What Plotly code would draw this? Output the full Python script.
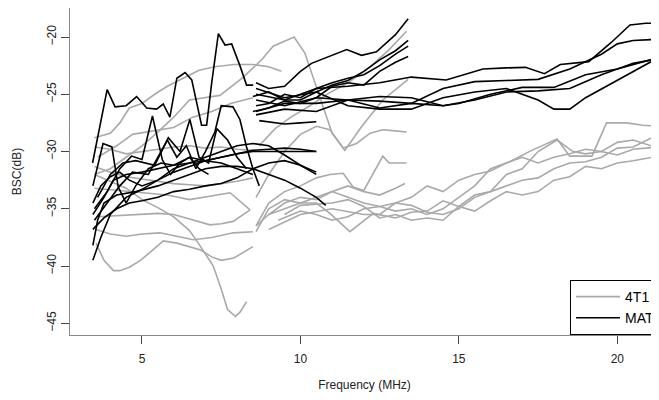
import plotly.graph_objects as go

# ---------------- data: 4T1 (gray) ----------------
g01_f = [3.5, 4.0, 4.5, 5.0, 5.5, 6.0, 6.5, 6.85, 7.25, 7.5, 7.7, 7.95, 8.1, 8.3]
g01_db = [-32.0, -32.6, -33.2, -34.2, -34.9, -35.7, -36.9, -38.3, -40.0, -42.0, -43.8, -44.4, -44.0, -43.1]
g02_f = [3.55, 3.8, 4.1, 4.3, 4.6, 4.95, 5.3, 5.67, 6.1, 6.5, 6.85, 7.2, 7.5, 7.9, 8.2, 8.5]
g02_db = [-38.0, -39.5, -40.4, -40.4, -40.1, -39.5, -38.7, -37.8, -38.0, -38.3, -38.6, -39.2, -39.5, -39.3, -38.8, -38.3]
g03_f = [3.55, 4.0, 4.5, 5.0, 5.57, 6.1, 6.62, 7.2, 7.88, 8.5]
g03_db = [-36.8, -37.2, -37.4, -37.2, -37.1, -37.4, -37.7, -37.5, -37.1, -37.0]
g04_f = [3.6, 4.2, 4.94, 5.5, 6.0, 6.5, 7.15, 7.5, 7.88, 8.41]
g04_db = [-35.7, -35.6, -35.5, -35.4, -35.5, -35.9, -36.4, -36.3, -36.1, -35.1]
g05_f = [3.5, 4.0, 4.3, 4.6, 5.0, 5.4, 5.8, 6.3, 6.8, 7.3, 7.9, 8.5, 9.0, 9.4]
g05_db = [-28.8, -28.4, -27.5, -26.2, -25.8, -25.0, -24.3, -23.6, -22.9, -22.6, -22.4, -22.4, -22.6, -23.0]
g06_f = [3.5, 4.0, 4.5, 5.0, 5.5, 6.0, 6.5, 7.0, 7.46, 8.2, 8.77, 9.14, 9.67, 9.8, 10.14, 10.6, 11.0, 11.4, 11.94, 12.6, 13.4]
g06_db = [-32.0, -31.5, -30.5, -29.5, -28.3, -27.0, -25.5, -25.3, -25.1, -23.5, -22.0, -20.8, -20.1, -20.0, -21.4, -25.2, -28.4, -29.9, -27.8, -25.5, -23.7]
g07_f = [3.5, 4.0, 4.5, 5.0, 5.5, 6.0, 6.5, 7.0, 7.5, 8.0, 8.5]
g07_db = [-29.6, -29.8, -30.2, -30.0, -29.8, -29.6, -29.5, -29.7, -29.6, -29.8, -29.9]
g08_f = [3.5, 4.0, 4.5, 5.0, 5.5, 6.0, 6.5, 7.0, 7.5, 8.0, 8.5]
g08_db = [-31.3, -31.8, -32.2, -32.4, -32.6, -32.8, -32.9, -33.0, -32.8, -32.6, -32.3]
g09_f = [3.5, 4.2, 5.0, 5.8, 6.5, 7.14, 7.78, 8.41]
g09_db = [-33.2, -33.4, -33.6, -33.8, -34.2, -33.9, -33.6, -35.1]
g10_f = [3.6, 4.2, 4.7, 5.3, 6.0, 6.6, 7.2, 7.8, 8.5]
g10_db = [-30.5, -29.5, -28.5, -28.2, -27.9, -27.0, -26.5, -25.8, -25.3]
g11_f = [8.7, 9.2, 9.7, 10.3, 10.9, 11.5, 12.2, 12.8, 13.35]
g11_db = [-29.5, -28.0, -27.0, -26.0, -24.9, -24.0, -22.6, -21.1, -19.5]
g12_f = [8.6, 9.0, 9.5, 10.0, 10.5, 10.93, 11.35, 11.77, 12.2, 12.6, 13.0, 13.35]
g12_db = [-34.0, -32.0, -30.0, -28.5, -27.8, -28.1, -29.7, -29.3, -28.4, -28.1, -28.2, -28.3]
g13_f = [8.6, 9.0, 9.5, 10.0, 10.5, 10.93, 11.35, 11.66, 12.0, 12.3, 12.6, 12.8, 13.35]
g13_db = [-36.5, -34.5, -33.5, -33.0, -32.3, -32.0, -31.9, -33.1, -33.4, -31.9, -30.4, -31.0, -31.0]
g14_f = [8.6, 9.0, 9.5, 10.0, 10.5, 11.0, 11.5, 12.0, 12.5, 13.0, 13.3]
g14_db = [-37.0, -35.0, -34.2, -34.5, -34.0, -33.5, -33.0, -33.5, -33.8, -33.2, -32.8]
g15_f = [8.6, 9.0, 9.5, 10.0, 10.5, 11.0, 11.5, 12.0, 12.5, 13.0, 13.5, 14.0, 14.5, 15.0, 15.5, 16.0, 16.6, 17.3, 17.7, 18.1, 18.5, 19.2, 19.66, 20.3, 20.8, 21.3]
g15_db = [-36.5, -35.5, -34.5, -34.0, -34.2, -33.5, -34.0, -34.5, -34.8, -35.2, -35.0, -35.5, -35.0, -34.0, -33.0, -31.5, -30.9, -29.9, -29.4, -28.9, -30.4, -30.4, -27.5, -27.5, -27.7, -27.8]
g16_f = [9.0, 10.0, 11.0, 12.0, 12.5, 13.0, 13.5, 14.0, 14.5, 15.0, 15.5, 16.0, 16.5, 17.0, 17.5, 18.1, 18.6, 19.0, 19.5, 20.0, 20.5, 21.3]
g16_db = [-36.8, -35.5, -35.0, -35.5, -35.5, -34.5, -34.7, -35.3, -35.5, -35.0, -34.0, -33.5, -32.0, -31.5, -30.0, -29.0, -30.0, -30.2, -30.0, -30.3, -29.8, -29.6]
g17_f = [9.5, 10.0, 11.0, 11.5, 12.0, 12.5, 13.0, 13.5, 14.0, 14.5, 15.0, 15.5, 16.0, 16.5, 17.0, 17.5, 18.0, 18.5, 19.0, 19.5, 20.0, 20.5, 21.3]
g17_db = [-35.5, -34.7, -34.5, -34.2, -34.8, -35.8, -35.5, -36.0, -35.8, -36.0, -34.8, -33.8, -33.5, -33.0, -32.5, -32.3, -31.5, -31.0, -30.9, -30.5, -29.7, -29.6, -28.5]
g18_f = [9.0, 10.0, 10.5, 10.93, 11.56, 12.3, 13.0, 13.5, 14.0, 14.5, 15.0, 15.5, 16.0, 16.5, 17.0, 17.5, 18.0, 18.5, 19.0, 19.5, 20.0, 20.5, 21.3]
g18_db = [-35.5, -34.5, -34.5, -35.4, -37.0, -35.4, -35.8, -35.3, -35.2, -34.3, -34.8, -35.2, -34.3, -33.5, -33.8, -33.5, -32.5, -32.2, -31.3, -31.5, -31.0, -30.8, -30.4]
g19_f = [9.3, 10.0, 10.5, 11.0, 11.5, 12.0, 12.5, 13.0, 13.5, 14.0, 14.5, 15.0, 15.5, 16.0, 16.5, 17.0, 17.5, 18.0, 18.5, 19.0, 19.5, 20.0, 20.5, 21.3]
g19_db = [-36.0, -35.2, -35.5, -36.0, -35.7, -35.0, -34.8, -34.5, -34.0, -33.0, -33.5, -32.5, -32.0, -31.7, -31.0, -30.5, -31.0, -30.5, -30.2, -29.8, -30.0, -29.2, -29.0, -29.7]

# ---------------- data: MAT (black) ----------------
k01_f = [8.6, 9.5, 10.5, 11.5, 12.5, 13.5, 14.6, 15.76, 16.5, 17.1, 17.7, 18.2, 19.1, 19.8, 20.4, 20.9, 21.3]
k01_db = [-25.0, -25.5, -24.5, -24.3, -24.0, -23.5, -23.75, -22.8, -22.7, -22.65, -23.2, -22.4, -22.15, -20.5, -18.95, -18.8, -18.8]
k02_f = [8.6, 9.5, 10.5, 11.5, 12.5, 13.5, 14.5, 15.5, 16.5, 17.5, 18.5, 19.5, 20.0, 20.5, 21.3]
k02_db = [-26.5, -25.8, -25.8, -25.5, -25.6, -25.8, -24.5, -23.9, -23.8, -23.7, -22.8, -21.5, -20.6, -20.3, -20.2]
k03_f = [8.6, 9.5, 10.5, 11.5, 12.5, 13.5, 14.5, 15.0, 16.0, 17.0, 18.0, 19.0, 20.0, 21.3]
k03_db = [-25.5, -26.0, -25.3, -25.5, -26.2, -25.8, -26.0, -25.8, -25.0, -24.4, -24.4, -23.3, -22.8, -21.8]
k04_f = [8.6, 9.5, 10.5, 11.5, 12.5, 13.5, 14.5, 15.5, 16.5, 17.5, 18.0, 18.5, 19.0, 20.0, 21.3]
k04_db = [-24.5, -25.3, -24.8, -26.0, -26.3, -26.3, -25.3, -24.8, -24.5, -25.5, -26.3, -26.3, -25.3, -23.8, -21.8]
k05_f = [8.6, 9.5, 10.5, 11.5, 12.5, 13.5, 14.5, 15.5, 16.5, 17.5, 18.5, 19.5, 20.5, 21.3]
k05_db = [-26.8, -26.3, -26.5, -25.5, -25.2, -25.3, -26.0, -25.5, -24.8, -24.7, -24.5, -23.3, -22.3, -21.9]
k06_f = [8.6, 9.0, 9.5, 10.0, 10.35, 11.0, 11.46, 11.93, 12.4, 13.0, 13.4]
k06_db = [-24.0, -24.5, -24.3, -23.0, -22.3, -21.6, -21.1, -21.6, -21.3, -19.8, -18.4]
k07_f = [8.5, 9.0, 9.5, 10.0, 10.5, 11.0, 11.5, 12.0, 12.5, 13.0, 13.4]
k07_db = [-25.2, -24.8, -25.5, -25.5, -24.8, -24.2, -23.8, -23.0, -22.0, -21.2, -20.3]
k08_f = [8.6, 9.0, 9.5, 10.0, 10.5, 11.0, 11.5, 12.0, 12.5, 13.0, 13.4]
k08_db = [-26.0, -25.8, -25.0, -25.3, -24.5, -24.0, -23.6, -23.3, -22.5, -21.5, -20.8]
k09_f = [8.5, 9.0, 9.5, 10.0, 10.5, 11.0, 11.5, 12.0, 12.5, 13.0, 13.4]
k09_db = [-26.5, -26.2, -25.6, -25.8, -25.3, -24.3, -24.0, -24.2, -23.0, -22.2, -21.7]
k10_f = [8.7, 9.5, 10.0, 10.5]
k10_db = [-27.3, -27.6, -27.5, -27.4]
k11_f = [3.44, 3.9, 4.15, 4.5, 4.83, 5.15, 5.46, 5.67, 5.88, 6.1, 6.36, 6.57, 6.88, 7.04, 7.2, 7.41, 7.62, 7.83, 8.09, 8.3, 8.51]
k11_db = [-31.0, -24.6, -26.1, -26.0, -25.2, -26.2, -26.3, -25.85, -27.0, -23.6, -23.1, -23.75, -27.7, -27.7, -24.0, -19.7, -20.7, -20.6, -22.5, -24.2, -24.2]
k12_f = [3.45, 3.77, 4.05, 4.25, 4.5, 4.8, 5.2, 5.6, 6.0, 6.5, 7.0, 7.5, 8.0, 8.5]
k12_db = [-33.0, -29.3, -29.6, -33.1, -34.5, -33.0, -31.5, -31.0, -31.2, -30.5, -30.8, -31.0, -31.5, -32.0]
k13_f = [3.5, 3.9, 4.3, 4.67, 5.0, 5.33, 5.64, 5.9, 6.2, 6.5, 6.8, 7.1]
k13_db = [-35.0, -33.5, -31.5, -30.4, -30.7, -26.9, -30.7, -32.0, -31.0, -30.5, -31.5, -32.0]
k14_f = [3.6, 4.0, 4.4, 4.8, 5.4, 5.83, 6.2, 6.51, 6.8, 7.1, 7.36, 7.7, 8.0, 8.3]
k14_db = [-34.0, -32.0, -31.0, -30.8, -31.2, -28.8, -30.0, -27.2, -30.5, -31.0, -28.0, -29.0, -30.5, -31.5]
k15_f = [3.5, 3.9, 4.3, 4.7, 5.2, 5.8, 6.1, 6.4, 6.7, 7.0, 7.3, 7.5, 7.87, 8.09, 8.3, 8.5, 8.7]
k15_db = [-36.0, -34.5, -33.0, -31.8, -32.0, -29.0, -30.5, -29.5, -31.5, -30.0, -28.3, -26.0, -26.1, -27.2, -29.6, -31.5, -33.0]
k16_f = [3.45, 3.7, 4.0, 4.5, 5.0, 5.5, 6.0, 6.5, 7.0, 7.5, 8.0, 8.5, 9.0, 9.5, 10.0, 10.5]
k16_db = [-39.5, -37.5, -35.5, -34.0, -33.3, -32.5, -31.8, -31.3, -30.8, -30.5, -30.2, -29.9, -29.8, -29.7, -29.8, -30.0]
k17_f = [3.45, 3.6, 3.8, 4.2, 4.8, 5.5, 6.0, 6.5, 7.0, 7.5, 8.0, 8.5, 9.0, 9.5, 10.0, 10.5, 10.8]
k17_db = [-38.2, -36.0, -34.5, -33.8, -33.5, -33.0, -32.5, -32.0, -31.5, -31.3, -31.3, -31.5, -32.0, -32.5, -33.2, -34.0, -34.7]
k18_f = [3.45, 3.8, 4.2, 4.6, 5.0, 5.5, 6.0, 6.5, 7.0, 7.5, 8.0, 8.5, 9.0, 9.5, 10.0, 10.5]
k18_db = [-36.8, -35.8, -35.0, -34.5, -34.3, -34.0, -33.5, -33.3, -33.0, -32.8, -32.3, -31.5, -31.0, -30.8, -31.2, -32.0]
k19_f = [3.45, 3.8, 4.1, 4.5, 5.0, 5.5, 6.0, 6.5, 7.0, 7.5, 8.0, 8.5, 9.0, 9.5, 10.0, 10.5]
k19_db = [-35.5, -34.0, -32.5, -32.0, -31.8, -31.5, -31.2, -31.0, -30.8, -30.5, -30.2, -30.0, -30.0, -30.0, -30.0, -30.0]
k20_f = [3.45, 3.7, 4.0, 4.3, 4.6, 5.0, 5.5, 6.0, 6.5, 7.0, 7.5, 8.0, 8.5, 9.0, 9.5, 10.0, 10.5]
k20_db = [-34.5, -33.0, -32.2, -31.8, -32.5, -33.0, -32.5, -31.5, -31.0, -30.5, -30.0, -29.5, -29.3, -29.5, -30.3, -31.2, -31.8]

gray_f = [g01_f, g02_f, g03_f, g04_f, g05_f, g06_f, g07_f, g08_f, g09_f, g10_f,
          g11_f, g12_f, g13_f, g14_f, g15_f, g16_f, g17_f, g18_f, g19_f]
gray_db = [g01_db, g02_db, g03_db, g04_db, g05_db, g06_db, g07_db, g08_db, g09_db, g10_db,
           g11_db, g12_db, g13_db, g14_db, g15_db, g16_db, g17_db, g18_db, g19_db]
black_f = [k01_f, k02_f, k03_f, k04_f, k05_f, k06_f, k07_f, k08_f, k09_f, k10_f,
           k11_f, k12_f, k13_f, k14_f, k15_f, k16_f, k17_f, k18_f, k19_f, k20_f]
black_db = [k01_db, k02_db, k03_db, k04_db, k05_db, k06_db, k07_db, k08_db, k09_db, k10_db,
            k11_db, k12_db, k13_db, k14_db, k15_db, k16_db, k17_db, k18_db, k19_db, k20_db]

x_ticks = [5, 10, 15, 20]
y_ticks = [-20, -25, -30, -35, -40, -45]

GRAY = "#a9a9a9"
BLACK = "#000000"
FONT = "Liberation Sans, Arial, sans-serif"

fig = go.Figure()
for i, (fx, dy) in enumerate(zip(gray_f, gray_db)):
    fig.add_trace(go.Scatter(x=fx, y=dy, mode="lines", line=dict(color=GRAY, width=1.6),
                             name="4T1", legendgroup="4T1", showlegend=(i == 0),
                             hoverinfo="skip"))
for i, (fx, dy) in enumerate(zip(black_f, black_db)):
    fig.add_trace(go.Scatter(x=fx, y=dy, mode="lines", line=dict(color=BLACK, width=1.6),
                             name="MAT", legendgroup="MAT", showlegend=(i == 0),
                             hoverinfo="skip"))

# The page places the figure 8px in from the top-left corner, so the figure is
# sized 651x392 to fill the 659x400 window.
fig.update_layout(
    width=651, height=392,
    margin=dict(l=62, r=0, t=0, b=65, autoexpand=False),
    paper_bgcolor="white", plot_bgcolor="white",
    font=dict(family=FONT, size=12, color="#222"),
    legend=dict(x=0.849, y=0, xanchor="left", yanchor="bottom",
                bordercolor="#000", borderwidth=1, bgcolor="white",
                font=dict(size=14, color="#000"), tracegroupgap=0,
                itemwidth=44),
    xaxis=dict(range=[2.728, 21.316], tickvals=x_ticks, ticks="outside", ticklen=8,
               tickcolor="#444", showgrid=False, zeroline=False, showline=True,
               linecolor="#888", linewidth=1.2, mirror=True, automargin=False,
               title=dict(text="Frequency (MHz)", font=dict(size=12), standoff=16),
               ticklabelstandoff=4),
    yaxis=dict(range=[-46.02, -17.468], tickvals=y_ticks, ticks="outside", ticklen=8,
               tickcolor="#444", showgrid=False, zeroline=False, showline=True,
               linecolor="#888", linewidth=1.2, tickangle=-90, automargin=False,
               title=dict(text="BSC(dB)", font=dict(size=12), standoff=20),
               ticklabelstandoff=0),
)

fig.write_html("out.html")
